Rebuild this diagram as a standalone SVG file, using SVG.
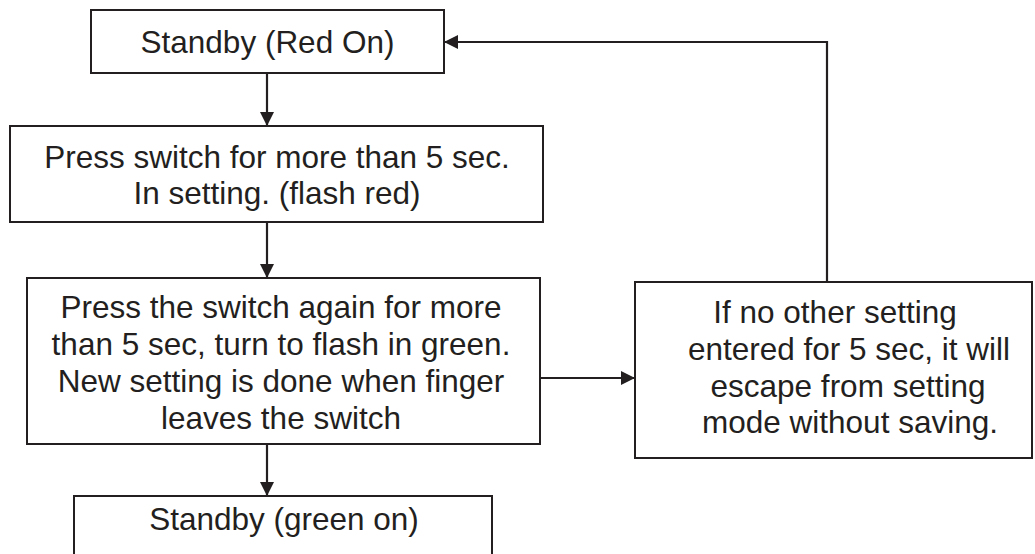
<svg xmlns="http://www.w3.org/2000/svg" width="1035" height="554" viewBox="0 0 1035 554">
  <style>
    .box { fill: #ffffff; stroke: #231f20; stroke-width: 2; }
    .lbl { font-family: "Liberation Sans", Arial, sans-serif; font-size: 31.5px; fill: #231f20; text-anchor: middle; }
    .edge { fill: none; stroke: #231f20; stroke-width: 2.2; }
  </style>
  <defs>
    <marker id="arr" markerUnits="userSpaceOnUse" markerWidth="14" markerHeight="14" viewBox="0 0 14 14" refX="14" refY="7" orient="auto">
      <path d="M0,0 L14,7 L0,14 Z" fill="#231f20"/>
    </marker>
  </defs>
  <rect width="1035" height="554" fill="#ffffff"/>

  <g id="connectors">
    <line class="edge" x1="267" y1="73" x2="267" y2="126" marker-end="url(#arr)"/>
    <line class="edge" x1="267" y1="222" x2="267" y2="278" marker-end="url(#arr)"/>
    <line class="edge" x1="267" y1="444" x2="267" y2="496" marker-end="url(#arr)"/>
    <line class="edge" x1="540" y1="378" x2="635" y2="378" marker-end="url(#arr)"/>
    <polyline class="edge" points="827,282 827,42 444,42" marker-end="url(#arr)"/>
  </g>

  <g id="standby-red">
    <rect class="box" x="91" y="10" width="353" height="63"/>
    <text class="lbl" x="267.5" y="53">Standby (Red On)</text>
  </g>

  <g id="press-setting">
    <rect class="box" x="10" y="126" width="533" height="96"/>
    <text class="lbl" x="277" y="168">Press switch for more than 5 sec.</text>
    <text class="lbl" x="277" y="204">In setting. (flash red)</text>
  </g>

  <g id="press-again">
    <rect class="box" x="27" y="278" width="513" height="166"/>
    <text class="lbl" x="281" y="318">Press the switch again for more</text>
    <text class="lbl" x="281" y="355">than 5 sec, turn to flash in green.</text>
    <text class="lbl" x="281" y="392">New setting is done when finger</text>
    <text class="lbl" x="281" y="429">leaves the switch</text>
  </g>

  <g id="escape">
    <rect class="box" x="635" y="282" width="397" height="176"/>
    <text class="lbl" x="835" y="323">If no other setting</text>
    <text class="lbl" x="849" y="360">entered for 5 sec, it will</text>
    <text class="lbl" x="848" y="397">escape from setting</text>
    <text class="lbl" x="850" y="433">mode without saving.</text>
  </g>

  <g id="standby-green">
    <rect class="box" x="74" y="496" width="418" height="70"/>
    <text class="lbl" x="284" y="530">Standby (green on)</text>
  </g>
</svg>
